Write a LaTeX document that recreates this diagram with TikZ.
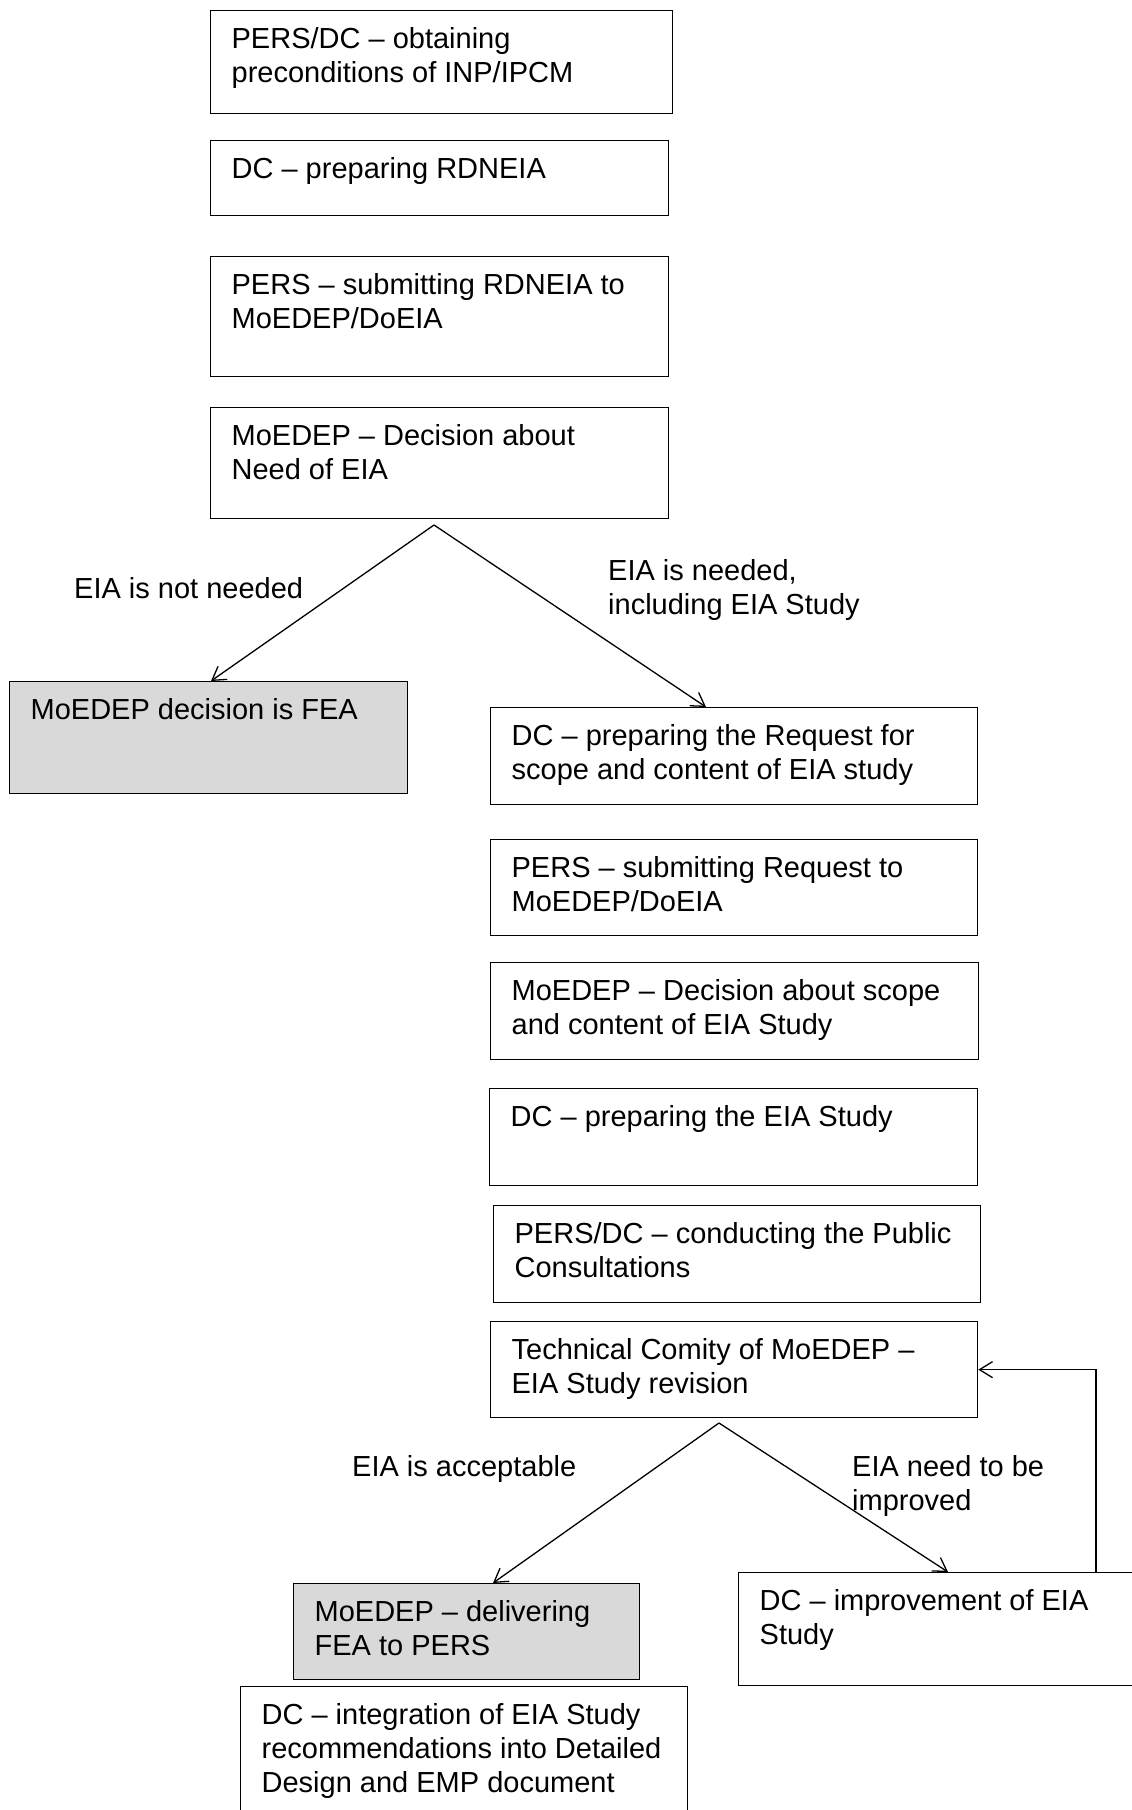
\documentclass[tikz,border=0pt]{standalone}
\usepackage{fontspec}
\setmainfont{Liberation Sans}
\usetikzlibrary{arrows.meta,calc}

% text block inside a flow box: width #1, height #2 (pt), top-left aligned
\newcommand\boxtext[3]{%
  \parbox[b][#2pt][t]{#1pt}{\leftskip=21pt\rightskip=0pt plus 1fil\parindent=0pt
    \rule{0pt}{38pt}#3}}

\definecolor{fillgray}{HTML}{D9D9D9}

\tikzset{
  flow/.style={draw=black, line width=1.3pt, anchor=north west, inner sep=0pt,
    font=\fontsize{29}{34}\selectfont},
  result/.style={flow, fill=fillgray},
  branch/.style={inner sep=0pt, align=left, font=\fontsize{29}{34}\selectfont},
  arr/.style={line width=1.3pt, -{Straight Barb[length=13pt,width=16pt,line width=1.3pt]}},
  link/.style={line width=1.6pt}
}

\begin{document}
\begin{tikzpicture}[x=1pt,y=-1pt]
  \useasboundingbox (0,0) rectangle (1132,1810);
  \clip (0,0) rectangle (1132,1810);

  % main sequence
  \node[flow] (b1) at (210,10)  {\boxtext{462}{103}{PERS/DC – obtaining\\preconditions of INP/IPCM}};
  \node[flow] (b2) at (210,140) {\boxtext{458}{75}{DC – preparing RDNEIA}};
  \node[flow] (b3) at (210,256) {\boxtext{458}{120}{PERS – submitting RDNEIA to\\MoEDEP/DoEIA}};
  \node[flow] (b4) at (210,407) {\boxtext{458}{111}{MoEDEP – Decision about\\Need of EIA}};

  % first decision
  \node[result] (g1) at (9,681) {\boxtext{398}{112}{MoEDEP decision is FEA}};
  \node[flow] (r1) at (490,707)  {\boxtext{487}{97}{DC – preparing the Request for\\scope and content of EIA study}};
  \node[flow] (r2) at (490,839)  {\boxtext{487}{96}{PERS – submitting Request to\\MoEDEP/DoEIA}};
  \node[flow] (r3) at (490,962)  {\boxtext{488}{97}{MoEDEP – Decision about scope\\and content of EIA Study}};
  \node[flow] (r4) at (489,1088) {\boxtext{488}{97}{DC – preparing the EIA Study}};
  \node[flow] (r5) at (493,1205) {\boxtext{487}{97}{PERS/DC – conducting the Public\\Consultations}};
  \node[flow] (r6) at (490,1321) {\boxtext{487}{96}{Technical Comity of MoEDEP –\\EIA Study revision}};

  % second decision
  \node[result] (g2) at (293,1583) {\boxtext{346}{96}{MoEDEP – delivering\\FEA to PERS}};
  \node[flow] (imp) at (738,1572)  {\boxtext{420}{113}{DC – improvement of EIA\\Study}};
  \node[flow] (fin) at (240,1686)  {\boxtext{447}{140}{DC – integration of EIA Study\\recommendations into Detailed\\Design and EMP document}};

  % branch labels
  \node[branch, anchor=base west] (l1) at (74,598) {EIA is not needed};
  \node[branch, anchor=north west] (l2) at (608,559) {EIA is needed,\\including EIA Study};
  \node[branch, anchor=base west] (l3) at (352,1476) {EIA is acceptable};
  \node[branch, anchor=north west] (l4) at (852,1455) {EIA need to be\\improved};

  % branching points and arrow ends
  \coordinate (a1) at (434,525);
  \coordinate (a2) at (719,1423);
  \coordinate (t1) at ($(g1.north west)+(202,0)$);
  \coordinate (t2) at ($(r1.north west)+(216,0)$);
  \coordinate (t3) at ($(g2.north west)+(200,0)$);
  \coordinate (t4) at ($(imp.north west)+(210,0)$);
  \coordinate (fb) at ($(imp.north west)+(358,0)$);

  \draw[arr] (a1) -- (t1);
  \draw[arr] (a1) -- (t2);
  \draw[arr] (a2) -- (t3);
  \draw[arr] (a2) -- (t4);
  \draw[arr] (fb) |- (r6.east);
\end{tikzpicture}
\end{document}
